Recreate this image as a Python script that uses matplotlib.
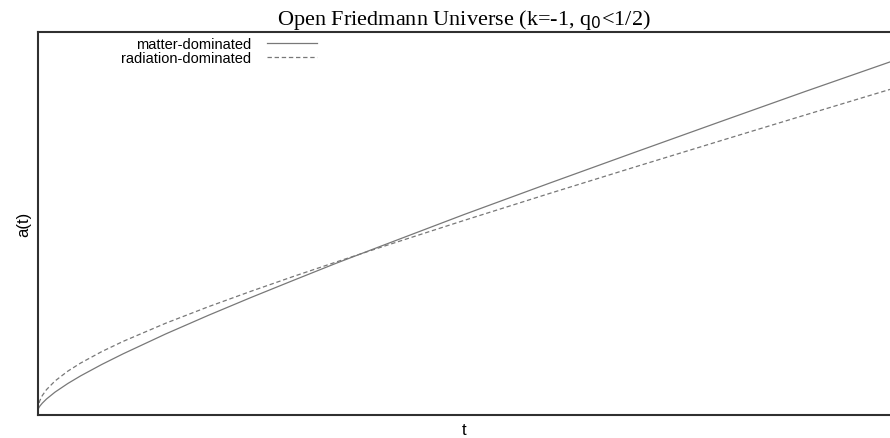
import matplotlib
matplotlib.use('Agg')
from matplotlib import pyplot as plt

# Values (arbitrary units, t runs 0..10)
t = [0, 0.005, 0.02, 0.05, 0.1, 0.2, 0.35, 0.5, 0.75, 1.0, 1.5, 2.0, 2.5,
     3.0, 3.5, 4.0, 5.0, 6.0, 7.0, 8.0, 9.0, 10.0]
a_matter = [0, 0.042, 0.106, 0.195, 0.316, 0.514, 0.761, 0.980, 1.310, 1.615,
            2.186, 2.720, 3.232, 3.727, 4.216, 4.684, 5.615, 6.514, 7.399,
            8.276, 9.147, 10.0]
a_radiation = [0, 0.130, 0.260, 0.413, 0.586, 0.834, 1.116, 1.348, 1.680,
               1.972, 2.494, 2.967, 3.411, 3.839, 4.252, 4.657, 5.446, 6.218,
               6.977, 7.727, 8.472, 9.211]

labels = ['matter-dominated', 'radiation-dominated']
title = 'Open Friedmann Universe (k=-1, q$_0$<1/2)'

W, H = 890, 439
fig = plt.figure(figsize=(W / 100, H / 100), dpi=100)
ax = fig.add_axes([38 / W, 1 - 416 / H, 1 - 38 / W, (416 - 33) / H])

line_col = '#787878'
ax.plot(t, a_matter, color=line_col, lw=0.9, label=labels[0])
ax.plot(t, a_radiation, color=line_col, lw=0.9, dashes=(3.5, 2.2),
        label=labels[1])

ax.set_xlim(0, 10)
ax.set_ylim(-0.144, 10.86)
ax.set_xticks([])
ax.set_yticks([])
for side in ['left', 'bottom', 'top']:
    ax.spines[side].set_linewidth(1.5)
    ax.spines[side].set_color('#303030')
ax.spines['right'].set_visible(False)

ax.set_title(title, family='Liberation Serif', fontsize=16, pad=6)
ax.set_xlabel('t', family='Liberation Sans', fontsize=12, labelpad=5)
ax.set_ylabel('a(t)', family='Liberation Sans', fontsize=12, labelpad=5)

leg = ax.legend(loc='upper right', bbox_to_anchor=(317 / W, 1 - 38 / H),
                bbox_transform=fig.transFigure, markerfirst=False,
                frameon=False, borderpad=0, borderaxespad=0,
                handlelength=3.4, handletextpad=1.1, labelspacing=0.02,
                prop={'family': 'Liberation Sans', 'size': 10.5})

fig.savefig('out.png', dpi=100)
